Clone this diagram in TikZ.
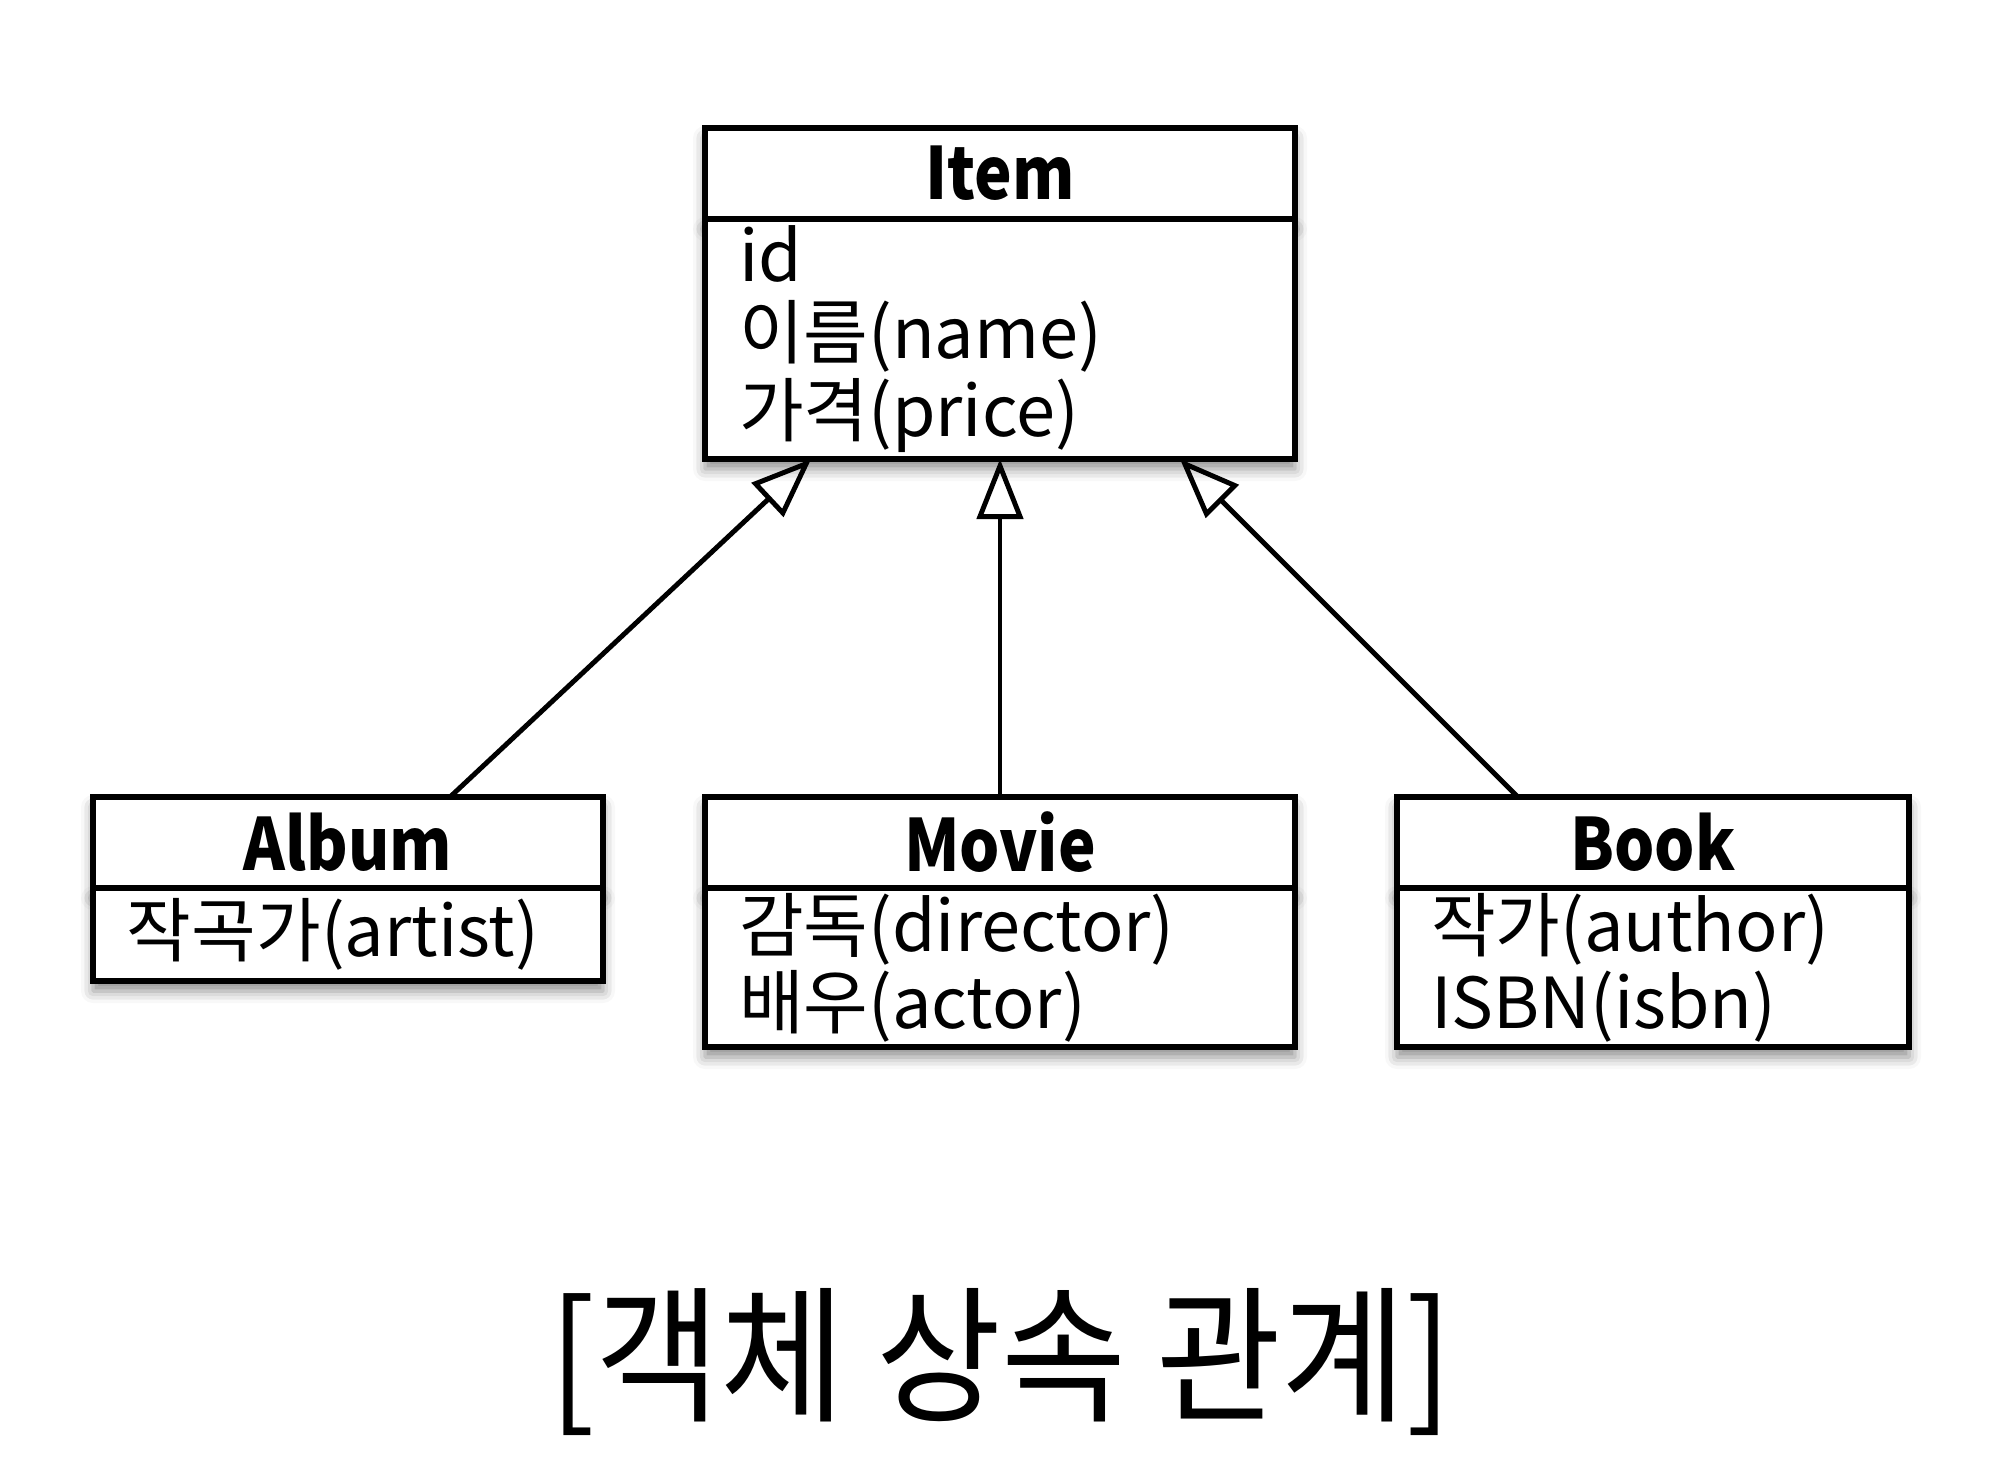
\documentclass[tikz,border=0pt]{standalone}
\usepackage{fontspec}
\setmainfont{Noto Sans CJK KR}
\newfontfamily\narrowfont{Noto Sans CJK KR}[FakeStretch=0.88]
\newfontfamily\captionfont{Noto Sans CJK KR}[FakeStretch=0.92]
\usetikzlibrary{calc,positioning,arrows.meta,shadows.blur}

\begin{document}
\begin{tikzpicture}[
    classbox/.style = {draw, line width=1.5pt, fill=white, outer sep=0pt,
      blur shadow={shadow xshift=0pt, shadow yshift=-0.1cm,
        shadow blur radius=0.12cm, shadow opacity=45}},
    classname/.style = {classbox, minimum width=5.9cm, minimum height=0.91cm,
      inner sep=0pt, font=\fontsize{20.5}{24}\narrowfont\bfseries},
    attrs/.style = {classbox, align=left, inner xsep=0.34cm, inner ysep=0pt,
      font=\fontsize{20}{22}\selectfont},
    isa/.style = {-{Triangle[open, length=0.6cm, width=0.46cm]}, line width=1.4pt}]
  \useasboundingbox (0,0) rectangle (20,-14.8);

  % superclass
  \node[classname] (item) at (10.0,-1.735) {Item};
  \node[attrs, text width=5.22cm, minimum height=2.40cm, below=0pt of item] (itemattrs)
    {id\\이름(name)\\가격(price)};

  % subclasses
  \node[classname, below=3.38cm of itemattrs] (movie) {Movie};
  \node[attrs, text width=5.22cm, minimum height=1.59cm, below=0pt of movie] (movieattrs)
    {감독(director)\\배우(actor)};

  \node[classname, minimum width=5.1cm, left=1.02cm of movie] (album) {Album};
  \node[attrs, text width=4.42cm, minimum height=0.93cm, below=0pt of album] (albumattrs)
    {작곡가(artist)};

  \node[classname, minimum width=5.12cm, right=1.02cm of movie] (book) {Book};
  \node[attrs, text width=4.44cm, minimum height=1.59cm, below=0pt of book] (bookattrs)
    {작가(author)\\ISBN(isbn)};

  % generalization arrows
  \draw[isa] ($(album.north west)!0.70!(album.north east)$)
    -- ($(itemattrs.south west)!0.18!(itemattrs.south east)$);
  \draw[isa] (movie.north) -- (itemattrs.south);
  \draw[isa] ($(book.north west)!0.236!(book.north east)$)
    -- ($(itemattrs.south west)!0.805!(itemattrs.south east)$);

  \node[font=\fontsize{42}{48}\captionfont] (caption) at (10.01,-13.62)
    {[객체 상속 관계]};
\end{tikzpicture}
\end{document}
